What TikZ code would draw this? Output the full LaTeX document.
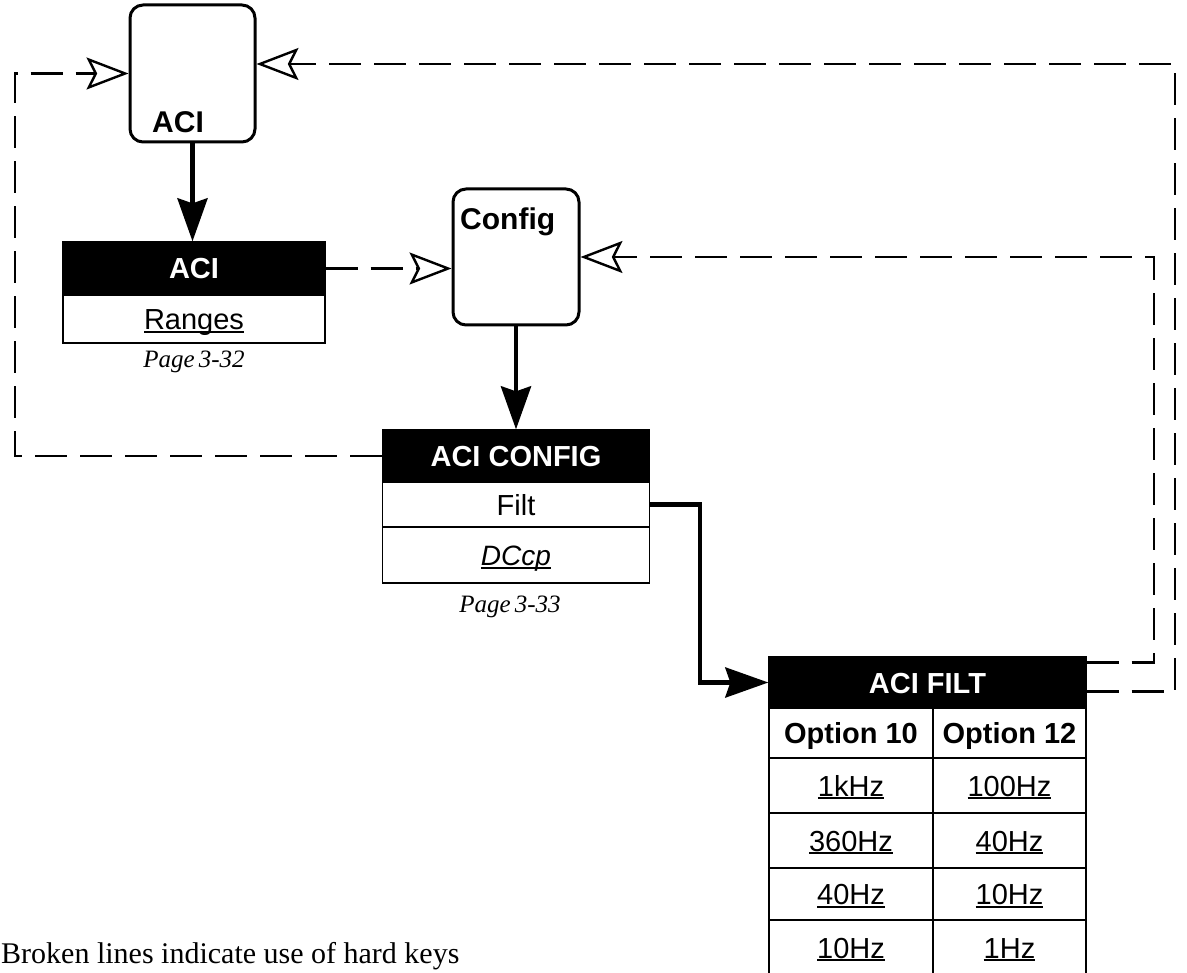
\documentclass[tikz,border=0pt]{standalone}
\usepackage{fontspec}
\setmainfont{Liberation Serif}
\setsansfont{Liberation Sans}
\usetikzlibrary{arrows.meta}
\newcommand\myul[1]{\setbox0\hbox{#1}\rlap{\rule[-0.11em]{\wd0}{0.07em}}\box0}
\tikzset{
  rbox/.style={draw, line width=3pt, rounded corners=13pt, inner sep=0pt},
  boxlbl/.style={inner sep=0pt, font=\sffamily\bfseries\fontsize{30}{30}\selectfont},
  hdr/.style={draw, fill=black, text=white, line width=1.3pt, inner sep=0pt,
    text height=21pt, text depth=0pt, font=\sffamily\bfseries\fontsize{29}{29}\selectfont},
  cell/.style={draw, line width=1.3pt, inner sep=0pt,
    text height=21pt, text depth=0pt, font=\sffamily\fontsize{29}{29}\selectfont},
  bcell/.style={cell, font=\sffamily\bfseries\fontsize{29}{29}\selectfont},
  pagelbl/.style={inner sep=0pt, font=\itshape\fontsize{25}{25}\selectfont},
  solidarrow/.style={line width=4.5pt, -{Stealth[length=43pt, width=30pt, inset=5pt]}},
  dashopen/.style={line width=2.8pt, dash pattern=on 32pt off 13pt,
    -{Stealth[open, fill=white, length=42pt, width=32pt, inset=8pt, line width=2.4pt]}}
}
\begin{document}
\begin{tikzpicture}[x=1pt,y=-1pt]
\useasboundingbox (0,0) rectangle (1187,973);

% rounded boxes
\node[rbox, minimum width=125pt, minimum height=137pt] (acibox) at (192.5,73.5) {};
\node[boxlbl, anchor=base west] (acilbl) at (152,133) {ACI};
\node[rbox, minimum width=126pt, minimum height=136pt] (cfg) at (516,257) {};
\node[boxlbl, anchor=base west] (cfglbl) at (460,230) {Config};

% ACI table
\node[hdr, minimum width=262pt, minimum height=53pt] (aciH) at (194,268.5) {ACI};
\node[cell, minimum width=262pt, minimum height=48pt] (aciR) at (194,319) {\myul{Ranges}};
\node[pagelbl, anchor=base] (pg1) at (194,368) {Page\,3-32};

% ACI CONFIG table
\node[hdr, minimum width=267pt, minimum height=52pt] (acicH) at (516,456) {ACI CONFIG};
\node[cell, minimum width=267pt, minimum height=45pt] (filt) at (516,504.5) {Filt};
\node[cell, minimum width=267pt, minimum height=56pt, font=\sffamily\itshape\fontsize{28}{28}\selectfont] (dccp) at (516,555) {\myul{DCcp}};
\node[pagelbl, anchor=base] (pg2) at (510,612) {Page\,3-33};

% ACI FILT table
\node[hdr, minimum width=317pt, minimum height=51pt] (afH) at (927.5,682.5) {ACI FILT};
\node[bcell, minimum width=164pt, minimum height=50pt] (o10) at (851,733) {Option 10};
\node[bcell, minimum width=153pt, minimum height=50pt] (o12) at (1009.5,733) {Option 12};
\node[cell, minimum width=164pt, minimum height=55pt] (a1) at (851,785.5) {\myul{1kHz}};
\node[cell, minimum width=153pt, minimum height=55pt] (b1) at (1009.5,785.5) {\myul{100Hz}};
\node[cell, minimum width=164pt, minimum height=55pt] (a2) at (851,840.5) {\myul{360Hz}};
\node[cell, minimum width=153pt, minimum height=55pt] (b2) at (1009.5,840.5) {\myul{40Hz}};
\node[cell, minimum width=164pt, minimum height=52pt] (a3) at (851,894) {\myul{40Hz}};
\node[cell, minimum width=153pt, minimum height=52pt] (b3) at (1009.5,894) {\myul{10Hz}};
\node[cell, minimum width=164pt, minimum height=55pt] (a4) at (851,947.5) {\myul{10Hz}};
\node[cell, minimum width=153pt, minimum height=55pt] (b4) at (1009.5,947.5) {\myul{1Hz}};

% note
\node[anchor=base west, inner sep=0pt, font=\fontsize{30}{30}\selectfont] (note) at (1,963) {Broken lines indicate use of hard keys};

% helper coordinates
\coordinate (lx) at (15,0);
\coordinate (ix) at (1154,0);
\coordinate (otop) at (1175,64);
\coordinate (fx) at (700,0);

% solid connectors
\draw[solidarrow] (acibox.south) -- (acibox.south |- aciH.north);
\draw[solidarrow] (cfg.south) -- (cfg.south |- acicH.north);
\draw[solidarrow] (filt.east) -| (fx |- afH.west) -- (afH.west);

% dashed connectors (hard keys)
\draw[dashopen] (aciH.east) -- (aciH.east -| cfg.west);
\draw[dashopen] ([yshift=-6pt]afH.north east) -| (ix |- cfg.east) -- (cfg.east);
\draw[dashopen] ([yshift=-35pt]afH.north east) -| (otop) -- (otop -| acibox.east);
\draw[dashopen] (acicH.west) -| (lx |- acibox.west) -- (acibox.west);
\end{tikzpicture}
\end{document}
